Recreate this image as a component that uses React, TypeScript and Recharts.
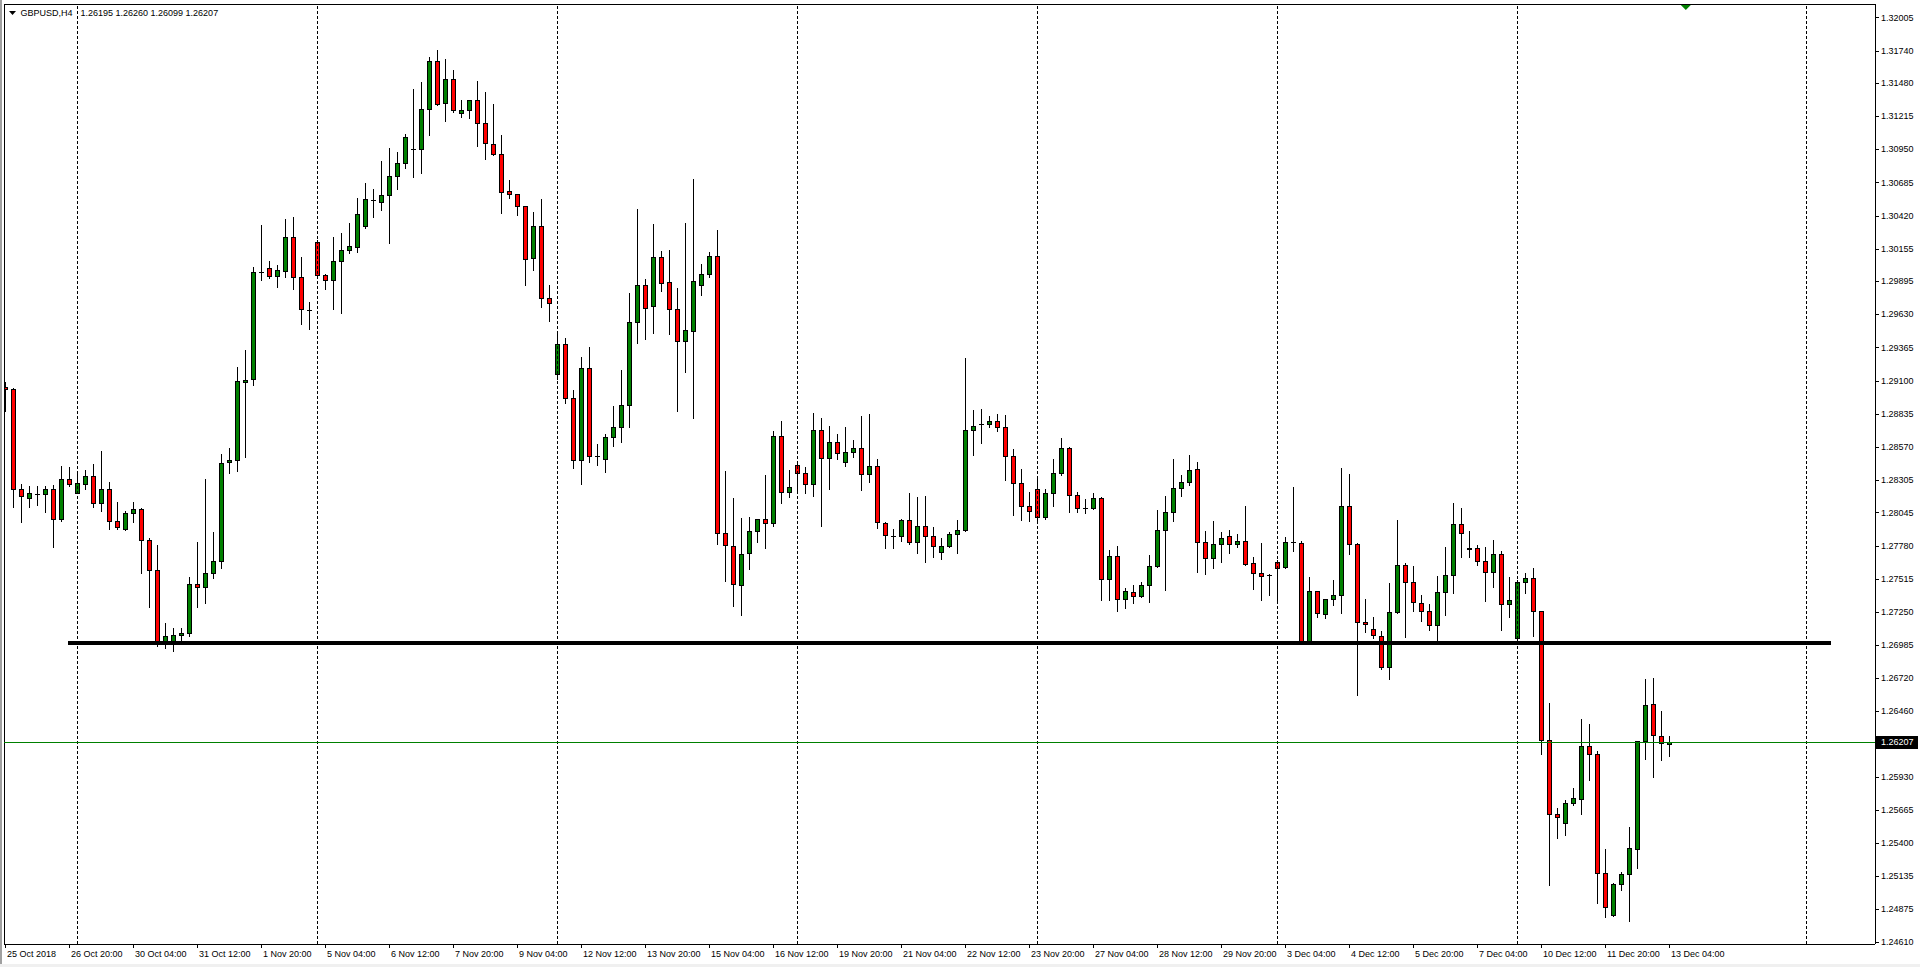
import React from 'react';
import { ComposedChart, Bar, XAxis, YAxis, ReferenceLine, ReferenceDot } from 'recharts';

// ---- data (GBPUSD H4, bar 0 = 25 Oct 2018 12:00) ----
const openP = [
  1.29052, 1.29030, 1.28230, 1.28158, 1.28193, 1.28190, 1.28230, 1.27990, 1.28310, 1.28204,
  1.28276, 1.28334, 1.28118, 1.28230, 1.27974, 1.27916, 1.28038, 1.28070, 1.27822, 1.27582,
  1.27004, 1.27004, 1.27062, 1.27084, 1.27470, 1.27446, 1.27558, 1.27654, 1.28446, 1.28462,
  1.29092, 1.29110, 1.29969, 1.29998, 1.29940, 1.29980, 1.30246, 1.29926, 1.29668, 1.30206,
  1.29942, 1.29902, 1.30054, 1.30142, 1.30166, 1.30340, 1.30545, 1.30532, 1.30582, 1.30734,
  1.30838, 1.30956, 1.30950, 1.31270, 1.31654, 1.31318, 1.31510, 1.31244, 1.31262, 1.31342,
  1.31158, 1.30990, 1.30910, 1.30614, 1.30590, 1.30494, 1.30078, 1.30334, 1.29758, 1.29150,
  1.29390, 1.28958, 1.28462, 1.29198, 1.28500, 1.28470, 1.28646, 1.28726, 1.28902, 1.29566,
  1.29862, 1.29694, 1.30086, 1.29886, 1.29670, 1.29414, 1.29494, 1.29862, 1.29950, 1.30094,
  1.27878, 1.27774, 1.27462, 1.27718, 1.27894, 1.27990, 1.27958, 1.28654, 1.28206, 1.28422,
  1.28358, 1.28270, 1.28702, 1.28478, 1.28606, 1.28446, 1.28526, 1.28558, 1.28350, 1.28414,
  1.27958, 1.27860, 1.27854, 1.27982, 1.27806, 1.27934, 1.27854, 1.27726, 1.27774, 1.27870,
  1.27902, 1.28702, 1.28756, 1.28750, 1.28774, 1.28726, 1.28494, 1.28278, 1.28094, 1.28230,
  1.28006, 1.28198, 1.28358, 1.28558, 1.28182, 1.28078, 1.28078, 1.28158, 1.27510, 1.27694,
  1.27350, 1.27406, 1.27374, 1.27462, 1.27614, 1.27902, 1.28046, 1.28238, 1.28286, 1.28390,
  1.27806, 1.27678, 1.27790, 1.27854, 1.27790, 1.27814, 1.27638, 1.27558, 1.27542, 1.27646,
  1.27606, 1.27806, 1.27798, 1.27004, 1.27414, 1.27230, 1.27350, 1.27382, 1.28094, 1.27790,
  1.27166, 1.27110, 1.27054, 1.26806, 1.27246, 1.27622, 1.27486, 1.27318, 1.27254, 1.27142,
  1.27406, 1.27542, 1.27950, 1.27760, 1.27758, 1.27654, 1.27572, 1.27710, 1.27310, 1.27038,
  1.27486, 1.27518, 1.27254, 1.26222, 1.25630, 1.25558, 1.25718, 1.25750, 1.26174, 1.26110,
  1.25158, 1.24822, 1.25070, 1.25150, 1.25350, 1.26214, 1.26510, 1.26254, 1.26195,
];
const highP = [
  1.29092, 1.29038, 1.28273, 1.28257, 1.28257, 1.28257, 1.28265, 1.28417, 1.28406, 1.28380,
  1.28385, 1.28433, 1.28537, 1.28286, 1.28129, 1.28054, 1.28129, 1.28081, 1.27838, 1.27785,
  1.27158, 1.27118, 1.27118, 1.27526, 1.27809, 1.28310, 1.27889, 1.28513, 1.28558, 1.29206,
  1.29345, 1.30012, 1.30345, 1.30057, 1.30025, 1.30393, 1.30409, 1.30089, 1.29729, 1.30225,
  1.29953, 1.30249, 1.30281, 1.30361, 1.30561, 1.30678, 1.30633, 1.30857, 1.30961, 1.30929,
  1.31073, 1.31433, 1.31489, 1.31686, 1.31745, 1.31673, 1.31585, 1.31345, 1.31343, 1.31497,
  1.31409, 1.31313, 1.31065, 1.30705, 1.30593, 1.30500, 1.30449, 1.30550, 1.29862, 1.29473,
  1.29438, 1.29025, 1.29289, 1.29369, 1.28593, 1.28673, 1.28897, 1.29185, 1.29801, 1.30473,
  1.29913, 1.30353, 1.30137, 1.30145, 1.29841, 1.30364, 1.30713, 1.30033, 1.30129, 1.30305,
  1.28377, 1.28161, 1.27998, 1.28006, 1.27995, 1.28345, 1.28694, 1.28774, 1.28382, 1.28438,
  1.28406, 1.28838, 1.28798, 1.28734, 1.28670, 1.28726, 1.28625, 1.28817, 1.28833, 1.28470,
  1.27966, 1.27910, 1.27990, 1.28198, 1.28169, 1.28177, 1.27926, 1.27838, 1.27886, 1.27985,
  1.29281, 1.28865, 1.28873, 1.28817, 1.28833, 1.28822, 1.28550, 1.28390, 1.28206, 1.28318,
  1.28230, 1.28473, 1.28638, 1.28566, 1.28206, 1.28150, 1.28198, 1.28166, 1.27742, 1.27774,
  1.27438, 1.27462, 1.27489, 1.27702, 1.28062, 1.28177, 1.28473, 1.28345, 1.28505, 1.28446,
  1.27894, 1.27974, 1.27889, 1.27905, 1.27870, 1.28097, 1.27689, 1.27801, 1.27550, 1.27665,
  1.27846, 1.28249, 1.27814, 1.27526, 1.27417, 1.27353, 1.27502, 1.28401, 1.28353, 1.27798,
  1.27350, 1.27206, 1.27094, 1.27478, 1.27982, 1.27638, 1.27617, 1.27382, 1.27310, 1.27537,
  1.27769, 1.28120, 1.28080, 1.27900, 1.27785, 1.27769, 1.27825, 1.27737, 1.27529, 1.27502,
  1.27561, 1.27601, 1.27257, 1.26518, 1.25678, 1.25742, 1.25838, 1.26390, 1.26350, 1.26134,
  1.25350, 1.25078, 1.25166, 1.25526, 1.26220, 1.26710, 1.26718, 1.26454, 1.26260,
];
const lowP = [
  1.28860, 1.28092, 1.27972, 1.28092, 1.28105, 1.28052, 1.27772, 1.27980, 1.28260, 1.28198,
  1.28236, 1.28086, 1.28060, 1.27916, 1.27916, 1.27908, 1.27972, 1.27558, 1.27292, 1.26977,
  1.26958, 1.26940, 1.27012, 1.27060, 1.27286, 1.27324, 1.27524, 1.27604, 1.28364, 1.28380,
  1.28492, 1.29068, 1.29905, 1.29924, 1.29852, 1.29926, 1.29830, 1.29556, 1.29516, 1.29932,
  1.29830, 1.29675, 1.29643, 1.30118, 1.30132, 1.30324, 1.30412, 1.30468, 1.30204, 1.30636,
  1.30804, 1.30732, 1.30764, 1.31068, 1.31305, 1.31180, 1.31252, 1.31212, 1.31204, 1.30980,
  1.30870, 1.30905, 1.30444, 1.30558, 1.30428, 1.29868, 1.29982, 1.29686, 1.29580, 1.29110,
  1.28918, 1.28403, 1.28275, 1.28452, 1.28425, 1.28371, 1.28577, 1.28611, 1.28732, 1.29398,
  1.29436, 1.29484, 1.29820, 1.29476, 1.28859, 1.29172, 1.28803, 1.29788, 1.29932, 1.27795,
  1.27499, 1.27299, 1.27227, 1.27595, 1.27811, 1.27763, 1.27934, 1.28118, 1.28166, 1.28198,
  1.28198, 1.28180, 1.27940, 1.28235, 1.28476, 1.28420, 1.28486, 1.28228, 1.28292, 1.27924,
  1.27764, 1.27764, 1.27814, 1.27790, 1.27724, 1.27646, 1.27692, 1.27676, 1.27772, 1.27724,
  1.27894, 1.28505, 1.28604, 1.28726, 1.28700, 1.28302, 1.28022, 1.27988, 1.27980, 1.27985,
  1.27990, 1.28094, 1.28342, 1.28046, 1.28046, 1.28038, 1.28070, 1.27342, 1.27348, 1.27254,
  1.27278, 1.27324, 1.27372, 1.27332, 1.27612, 1.27428, 1.27974, 1.28180, 1.28262, 1.27572,
  1.27556, 1.27604, 1.27646, 1.27718, 1.27766, 1.27622, 1.27436, 1.27348, 1.27388, 1.27324,
  1.27604, 1.27734, 1.26998, 1.26998, 1.27206, 1.27198, 1.27302, 1.27238, 1.27710, 1.26582,
  1.27092, 1.27038, 1.26790, 1.26716, 1.27238, 1.27052, 1.27260, 1.27180, 1.27102, 1.27012,
  1.27222, 1.27400, 1.27690, 1.27690, 1.27625, 1.27340, 1.27452, 1.27108, 1.27212, 1.27025,
  1.27398, 1.27057, 1.26116, 1.25067, 1.25443, 1.25467, 1.25702, 1.25635, 1.25907, 1.24918,
  1.24806, 1.24814, 1.25022, 1.24774, 1.25198, 1.26070, 1.25926, 1.26062, 1.26099,
];
const closeP = [
  1.29030, 1.28230, 1.28177, 1.28198, 1.28195, 1.28230, 1.27990, 1.28310, 1.28276, 1.28278,
  1.28334, 1.28118, 1.28230, 1.27974, 1.27926, 1.28038, 1.28070, 1.27822, 1.27582, 1.26998,
  1.27054, 1.27062, 1.27078, 1.27470, 1.27446, 1.27558, 1.27657, 1.28438, 1.28462, 1.29094,
  1.29102, 1.29969, 1.29970, 1.29940, 1.29982, 1.30246, 1.29926, 1.29670, 1.29668, 1.29942,
  1.29902, 1.30054, 1.30142, 1.30174, 1.30430, 1.30550, 1.30545, 1.30582, 1.30734, 1.30838,
  1.31046, 1.30956, 1.31270, 1.31654, 1.31310, 1.31510, 1.31268, 1.31262, 1.31342, 1.31158,
  1.30998, 1.30910, 1.30606, 1.30590, 1.30494, 1.30070, 1.30334, 1.29758, 1.29718, 1.29390,
  1.28958, 1.28462, 1.29198, 1.28500, 1.28500, 1.28646, 1.28726, 1.28902, 1.29566, 1.29862,
  1.29678, 1.30086, 1.29878, 1.29670, 1.29414, 1.29502, 1.29894, 1.29950, 1.30094, 1.27878,
  1.27782, 1.27470, 1.27710, 1.27894, 1.27990, 1.27958, 1.28654, 1.28206, 1.28246, 1.28358,
  1.28270, 1.28702, 1.28478, 1.28606, 1.28518, 1.28526, 1.28558, 1.28350, 1.28414, 1.27966,
  1.27862, 1.27860, 1.27982, 1.27806, 1.27934, 1.27854, 1.27774, 1.27774, 1.27870, 1.27902,
  1.28702, 1.28734, 1.28756, 1.28774, 1.28726, 1.28494, 1.28278, 1.28094, 1.28054, 1.28006,
  1.28198, 1.28358, 1.28558, 1.28182, 1.28078, 1.28078, 1.28158, 1.27510, 1.27694, 1.27350,
  1.27414, 1.27374, 1.27462, 1.27614, 1.27902, 1.28046, 1.28238, 1.28286, 1.28382, 1.27806,
  1.27678, 1.27790, 1.27838, 1.27790, 1.27814, 1.27636, 1.27558, 1.27540, 1.27542, 1.27598,
  1.27806, 1.27806, 1.27004, 1.27414, 1.27238, 1.27350, 1.27382, 1.28094, 1.27790, 1.27166,
  1.27150, 1.27062, 1.26806, 1.27246, 1.27622, 1.27486, 1.27326, 1.27254, 1.27142, 1.27406,
  1.27542, 1.27950, 1.27880, 1.27750, 1.27654, 1.27572, 1.27710, 1.27310, 1.27342, 1.27486,
  1.27518, 1.27254, 1.26222, 1.25630, 1.25606, 1.25718, 1.25758, 1.26174, 1.26110, 1.25158,
  1.24886, 1.25070, 1.25150, 1.25358, 1.26214, 1.26502, 1.26262, 1.26198, 1.26207,
];

const xTickIndex = [0, 8, 16, 24, 32, 40, 48, 56, 64, 72, 80, 88, 96, 104, 112, 120, 128, 136, 144, 152, 160, 168, 176, 184, 192, 200, 208];
const xTickLabels = [
  '25 Oct 2018', '26 Oct 20:00', '30 Oct 04:00', '31 Oct 12:00', '1 Nov 20:00', '5 Nov 04:00', '6 Nov 12:00',
  '7 Nov 20:00', '9 Nov 04:00', '12 Nov 12:00', '13 Nov 20:00', '15 Nov 04:00', '16 Nov 12:00', '19 Nov 20:00',
  '21 Nov 04:00', '22 Nov 12:00', '23 Nov 20:00', '27 Nov 04:00', '28 Nov 12:00', '29 Nov 20:00', '3 Dec 04:00',
  '4 Dec 12:00', '5 Dec 20:00', '7 Dec 04:00', '10 Dec 12:00', '11 Dec 20:00', '13 Dec 04:00',
];
const yTicks = [
  1.32005, 1.31740, 1.31480, 1.31215, 1.30950, 1.30685, 1.30420, 1.30155, 1.29895, 1.29630,
  1.29365, 1.29100, 1.28835, 1.28570, 1.28305, 1.28045, 1.27780, 1.27515, 1.27250, 1.26985,
  1.26720, 1.26460, 1.25930, 1.25665, 1.25400, 1.25135, 1.24875, 1.24610,
];
const weekGridIdx = [9, 39, 69, 99, 129, 159, 189, 225.125];
const supportLevel = 1.27;
const supportFrom = 7.875;
const supportTo = 228.25;
const lastPrice = 1.26207;
const shiftMarkerIdx = 210.1;
const headerSymbol = 'GBPUSD,H4';
const headerOHLC = '1.26195 1.26260 1.26099 1.26207';

const xDomain: [number, number] = [-0.125, 233.75];
const yDomain: [number, number] = [1.24593, 1.32113];

const GREEN = '#008000';
const RED = '#ff0000';
const FONT = '"Liberation Sans", Arial, sans-serif';

const data = openP.map((o, i) => ({
  i,
  o,
  hi: highP[i],
  lo: lowP[i],
  c: closeP[i],
  range: [lowP[i], highP[i]],
}));

const Candle = (props: any) => {
  const { x, y, width, height, payload } = props;
  if (x == null || y == null || !payload) return null;
  const top = Math.min(y, y + height);
  const h = Math.abs(height);
  const { o, c, hi, lo } = payload;
  const span = hi - lo || 1e-9;
  const yAt = (v: number) => top + ((hi - v) / span) * h;
  const cx = Math.round(x + width / 2);
  const yo = yAt(o);
  const yc = yAt(c);
  const bt = Math.round(Math.min(yo, yc));
  const bb = Math.round(Math.max(yo, yc));
  const fill = c > o ? GREEN : RED;
  return (
    <g shapeRendering="crispEdges">
      <line x1={cx + 0.5} x2={cx + 0.5} y1={Math.round(top)} y2={Math.round(top + h) + 1} stroke="#000" strokeWidth={1} />
      {bb - bt < 1 ? (
        <line x1={cx - 2} x2={cx + 3} y1={bt + 0.5} y2={bt + 0.5} stroke="#000" strokeWidth={1} />
      ) : (
        <rect x={cx - 1.5} y={bt + 0.5} width={4} height={bb - bt} fill={fill} stroke="#000" strokeWidth={1} />
      )}
    </g>
  );
};

const XTick = (props: any) => {
  const { x, y, payload } = props;
  const idx = xTickIndex.indexOf(payload.value);
  const label = idx >= 0 ? xTickLabels[idx] : '';
  return (
    <g>
      <line x1={x + 0.5} x2={x + 0.5} y1={y} y2={y + 4} stroke="#000" strokeWidth={1} shapeRendering="crispEdges" />
      <text x={x + 2} y={y + 10} fontSize={9} fontFamily={FONT} fill="#000" dominantBaseline="central">
        {label}
      </text>
    </g>
  );
};

const YTick = (props: any) => {
  const { x, y, payload } = props;
  return (
    <g>
      <line x1={x} x2={x + 4} y1={Math.round(y) + 0.5} y2={Math.round(y) + 0.5} stroke="#000" strokeWidth={1} shapeRendering="crispEdges" />
      <text x={x + 6} y={y} fontSize={9} fontFamily={FONT} fill="#000" dominantBaseline="central">
        {Number(payload.value).toFixed(5)}
      </text>
    </g>
  );
};

const PriceLabel = (props: any) => {
  const vb = props.viewBox || {};
  const x = (vb.x ?? 0) + (vb.width ?? 0);
  const y = vb.y ?? 0;
  return (
    <g>
      <rect x={x + 1} y={Math.round(y) - 6} width={42} height={13} fill="#000" />
      <text x={x + 6} y={y} fontSize={9} fontFamily={FONT} fill="#fff" dominantBaseline="central">
        {lastPrice.toFixed(5)}
      </text>
    </g>
  );
};

const ShiftMarker = (props: any) => {
  const { cx, cy } = props;
  if (cx == null || cy == null) return null;
  return <polygon points={`${cx - 5},${cy + 1} ${cx + 5},${cy + 1} ${cx},${cy + 6}`} fill={GREEN} />;
};

export default function App() {
  return (
    <div style={{ position: 'absolute', left: 0, top: 0, width: 1920, height: 967, background: '#fff', overflow: 'hidden' }}>
      <div style={{ position: 'absolute', left: 0, top: 0, width: 2, height: 967, background: '#a0a0a0' }} />
      <div style={{ position: 'absolute', left: 0, top: 964, width: 1920, height: 3, background: '#f0f0f0' }} />
      <ComposedChart
        width={1920}
        height={967}
        data={data}
        margin={{ top: 4, right: 0, left: 4, bottom: 0 }}
        style={{ position: 'absolute', left: 0, top: 0 }}
      >
        <XAxis
          type="number"
          dataKey="i"
          domain={xDomain}
          allowDataOverflow
          ticks={xTickIndex}
          interval={0}
          tick={<XTick />}
          tickLine={false}
          tickSize={0}
          tickMargin={0}
          height={23}
          axisLine={{ stroke: '#000', strokeWidth: 1, shapeRendering: 'crispEdges' }}
        />
        <YAxis
          orientation="right"
          type="number"
          domain={yDomain}
          allowDataOverflow
          ticks={yTicks}
          interval={0}
          tick={<YTick />}
          tickLine={false}
          tickSize={0}
          tickMargin={0}
          width={45}
          axisLine={{ stroke: '#000', strokeWidth: 1, shapeRendering: 'crispEdges' }}
        />
        <ReferenceLine y={yDomain[1]} stroke="#000" strokeWidth={1} shapeRendering="crispEdges" />
        <ReferenceLine x={xDomain[0]} stroke="#000" strokeWidth={1} shapeRendering="crispEdges" />
        {weekGridIdx.map((g) => (
          <ReferenceLine key={g} x={g} stroke="#000" strokeWidth={1} strokeDasharray="3 2" shapeRendering="crispEdges" />
        ))}
        <ReferenceLine y={lastPrice} stroke={GREEN} strokeWidth={1} shapeRendering="crispEdges" label={<PriceLabel />} />
        <ReferenceLine
          segment={[
            { x: supportFrom, y: supportLevel },
            { x: supportTo, y: supportLevel },
          ]}
          stroke="#000"
          strokeWidth={4}
          shapeRendering="crispEdges"
        />
        <Bar dataKey="range" barSize={5} isAnimationActive={false} shape={<Candle />} />
        <ReferenceDot x={shiftMarkerIdx} y={yDomain[1]} r={0} shape={<ShiftMarker />} />
      </ComposedChart>
      <svg style={{ position: 'absolute', left: 0, top: 0 }} width={400} height={24}>
        <polygon points="9,11 16,11 12.5,15" fill="#000" />
        <text x={20.5} y={13} fontSize={9} fontFamily={FONT} fill="#000" dominantBaseline="central">
          {headerSymbol}
        </text>
        <text x={80.5} y={13} fontSize={9} fontFamily={FONT} fill="#000" dominantBaseline="central">
          {headerOHLC}
        </text>
      </svg>
    </div>
  );
}
